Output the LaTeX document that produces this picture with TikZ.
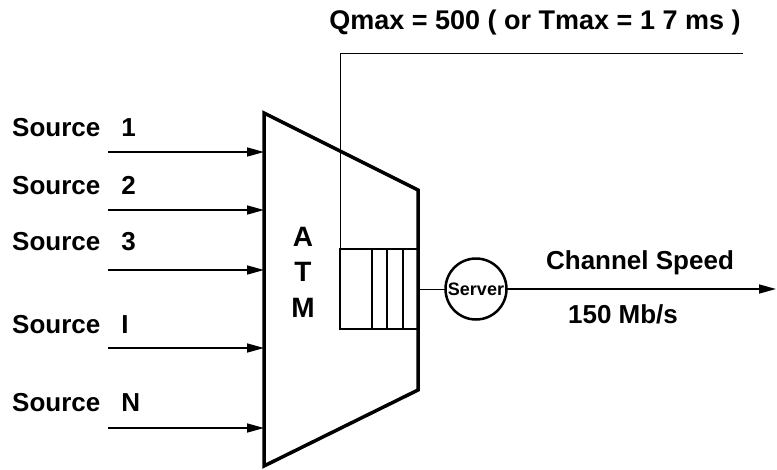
\documentclass[tikz,border=0pt]{standalone}
\usepackage{fontspec}
\setmainfont{Liberation Sans}
\usetikzlibrary{arrows.meta}

\begin{document}
\begin{tikzpicture}[x=1pt,y=-1pt,
	lbl/.style={inner sep=0pt,font=\fontsize{26}{30}\selectfont\bfseries},
	srclabel/.style={lbl,anchor=west},
	feed/.style={line width=1.6pt,-{Triangle[length=17pt,width=9pt]}},
	thinline/.style={line width=1pt}]
	\useasboundingbox (0,0) rectangle (777,469);
	% the switch as a trapezoid
	\coordinate (tl) at (264,113);
	\coordinate (tr) at (418,190);
	\coordinate (br) at (418,390);
	\coordinate (bl) at (264,466);
	\draw[line width=3.5pt] (tl) -- (tr) -- (br) -- (bl) -- cycle;
	\node[lbl,align=center,font=\fontsize{28}{35.5}\selectfont\bfseries] (atm) at (303,272) {A\\T\\M};
	% sources feeding the switch
	\foreach \t/\a/\n/\i in {128/152/1/1,186/210/2/2,242/270/3/3,325/348/I/i,403/428/N/n} {
		\node[srclabel] (src\i) at (12,\t) {Source\hspace{21pt}\n};
		\coordinate (from\i) at (108,\a);
		\coordinate (to\i) at (264,\a);
		\draw[feed] (from\i) -- (to\i);
	}
	% output queue and server
	\node[draw,line width=2.5pt,minimum width=78pt,minimum height=80pt,inner sep=0pt,outer sep=0pt] (queue) at (379,289) {};
	\foreach \x in {372,387,403}
		\draw[line width=1.2pt] (\x,249) -- (\x,329);
	\node[draw,circle,line width=2.5pt,minimum size=61pt,inner sep=0pt,outer sep=0pt,
		font=\fontsize{18}{20}\selectfont\bfseries] (server) at (476,289) {Server};
	\draw[thinline] (queue.east) -- (server.west);
	\coordinate (out) at (776,289);
	\draw[feed] (server.east) -- (out);
	\node[lbl] (speed) at (640,263) {Channel Speed};
	\node[lbl] (rate) at (623,314) {150 Mb/s};
	% queue limit
	\coordinate (qtop) at (340,53);
	\coordinate (qend) at (743,53);
	\draw[thinline] (queue.north west) -- (qtop) -- (qend);
	\node[lbl,font=\fontsize{27}{30}\selectfont\bfseries] (qmax) at (535,23) {Qmax = 500 ( or Tmax = 1 7 ms )};
\end{tikzpicture}
\end{document}
